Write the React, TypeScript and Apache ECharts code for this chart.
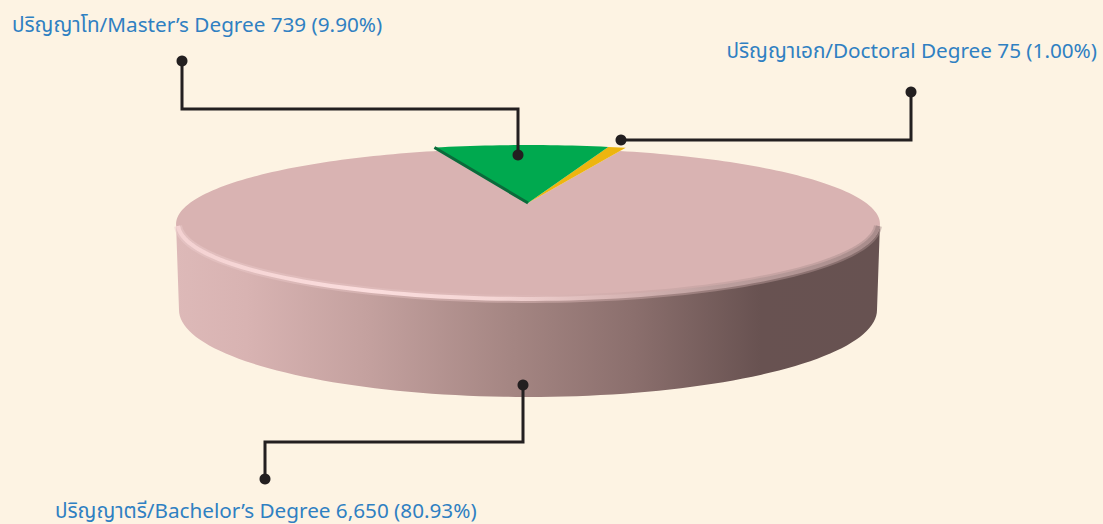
import React, { useEffect, useRef } from "react";
import * as echarts from "echarts";

// Data, in clockwise order from the start of the green slice
const names = ["ปริญญาโท/Master’s Degree", "ปริญญาเอก/Doctoral Degree", "ปริญญาตรี/Bachelor’s Degree"];
const values = [739, 75, 6650];
const percents = ["9.90", "1.00", "80.93"];
const sliceColors = ["#00A94F", "#EDB50F", "#D9B3B2"];
const sliceEdges = ["#0A6B3B", "#C99A0A", "#D9B3B2"];
const sliceRadius = [1.08, 1.08, 1];

// Layout
const W = 1103;
const H = 524;
const BG = "#FDF3E3";
const CX = 528;
const APEX_Y = 203;
const K = 0.2778;
const A = 338.1;
const B = 69.77;
const START_DEG = -19.2;
const BOTTOM = { cx: 528, cy: 310, rx: 349, ry: 87 };
const TEXT_COLOR = "#2F80C2";
const FONT = '"Noto Sans", "Noto Sans Thai", "DejaVu Sans", sans-serif';

const labelPos = [
  { x: 12, y: 24, align: "left" },
  { x: 1097, y: 50, align: "right" },
  { x: 55, y: 510, align: "left" },
];
const leaders = [
  [[182, 61], [182, 109], [518, 109], [518, 155]],
  [[911, 92], [911, 140], [621, 140]],
  [[523, 385], [523, 442], [265, 442], [265, 479]],
];

// Perspective projection of the unit disc (angle measured clockwise from the back)
function project(deg: number, r: number): number[] {
  const t = (deg * Math.PI) / 180;
  const u = r * Math.sin(t);
  const v = r * Math.cos(t);
  const d = 1 + K * v;
  return [CX + (A * u) / d, APEX_Y - (B * v) / d];
}
function arc(from: number, to: number, r: number): number[][] {
  const n = Math.max(2, Math.ceil(Math.abs(to - from) / 1.5));
  const pts: number[][] = [];
  for (let i = 0; i <= n; i++) pts.push(project(from + ((to - from) * i) / n, r));
  return pts;
}

const total = values.reduce((a, b) => a + b, 0);
const FRONT_FROM = 106.1;
const FRONT_TO = 253.9;

const grad = (stops: [number, string][]) =>
  new echarts.graphic.LinearGradient(0, 0, 1, 0, stops.map(([offset, color]) => ({ offset, color })));

function wallElement() {
  const top = arc(FRONT_FROM, FRONT_TO, 1); // right extreme -> left extreme, via the front
  const bottom: number[][] = [];
  for (let a = 180; a >= 0; a -= 2) {
    const t = (a * Math.PI) / 180;
    bottom.push([BOTTOM.cx + BOTTOM.rx * Math.cos(t), BOTTOM.cy + BOTTOM.ry * Math.sin(t)]);
  }
  return {
    type: "polygon",
    shape: { points: top.concat(bottom) },
    style: {
      fill: grad([
        [0, "#DDB9B8"],
        [0.1, "#D8B3B2"],
        [0.27, "#C4A19F"],
        [0.48, "#A48582"],
        [0.65, "#8B6F6D"],
        [0.83, "#685251"],
        [1, "#675251"],
      ]),
    },
  };
}

function rimElements() {
  const rim = arc(FRONT_FROM + 1.5, FRONT_TO - 1.5, 0.995);
  return [
    {
      type: "polyline",
      shape: { points: rim },
      style: {
        fill: "none",
        lineWidth: 8,
        opacity: 0.5,
        stroke: grad([
          [0, "#EBCBCB"],
          [0.5, "#DDB9B8"],
          [0.68, "#C4A2A1"],
          [1, "#A88C8B"],
        ]),
      },
    },
    {
      type: "polyline",
      shape: { points: rim },
      style: {
        fill: "none",
        lineWidth: 4,
        stroke: grad([
          [0, "#F4D2D2"],
          [0.27, "#FBDDDD"],
          [0.45, "#F5D6D5"],
          [0.62, "#D9B7B6"],
          [0.78, "#BB9E9D"],
          [1, "#A88C8B"],
        ]),
      },
    },
  ];
}

function renderSlice(params: any, api: any) {
  const row = api.value(0); // position in the clockwise order
  let from = START_DEG;
  for (let j = 0; j < row; j++) from += (values[j] / total) * 360;
  const sweep = (api.value(1) / total) * 360;
  const r = sliceRadius[row];
  const apex = project(0, 0);
  const points = [apex, ...arc(from, from + sweep, r)];
  const isMain = sweep > 180;
  const children: any[] = [];
  if (isMain) children.push(wallElement());
  children.push({
    type: "polygon",
    shape: { points },
    style: { fill: sliceColors[row] },
  });
  if (isMain) children.push(...rimElements());
  if (row === 0) {
    children.push({
      type: "polyline",
      shape: { points: [points[1], apex] },
      style: { fill: "none", stroke: sliceEdges[row], lineWidth: 3 },
    });
  }
  return { type: "group", children };
}

function renderLeader(params: any) {
  const pts = leaders[params.dataIndex];
  const last = pts[pts.length - 1];
  return {
    type: "group",
    children: [
      {
        type: "polyline",
        shape: { points: pts },
        style: { fill: "none", stroke: "#231F20", lineWidth: 3 },
      },
      { type: "circle", shape: { cx: pts[0][0], cy: pts[0][1], r: 5.5 }, style: { fill: "#231F20" } },
      { type: "circle", shape: { cx: last[0], cy: last[1], r: 5.5 }, style: { fill: "#231F20" } },
    ],
  };
}

export default function App() {
  const ref = useRef<HTMLDivElement>(null);
  useEffect(() => {
    document.body.style.margin = "0";
    document.body.style.background = BG;
    const chart = echarts.init(ref.current!, undefined, { renderer: "svg" });
    chart.setOption({
      animation: false,
      backgroundColor: BG,
      tooltip: { show: false },
      graphic: {
        elements: names.map((n, i) => ({
          type: "text",
          x: labelPos[i].x,
          y: labelPos[i].y,
          style: {
            text: `${n} ${values[i].toLocaleString("en-US")} (${percents[i]}%)`,
            fill: TEXT_COLOR,
            font: `400 20.7px ${FONT}`,
            align: labelPos[i].align,
            verticalAlign: "middle",
          },
        })),
      },
      series: [
        {
          type: "custom",
          coordinateSystem: "none",
          silent: true,
          z: 2,
          renderItem: renderSlice,
          // drawn largest first, so that the small slices lie on top
          data: values.map((v, i) => [i, v]).reverse(),
        },
        {
          type: "custom",
          coordinateSystem: "none",
          silent: true,
          z: 5,
          renderItem: renderLeader,
          data: leaders.map((_, i) => [i]),
        },
      ],
    });
    return () => chart.dispose();
  }, []);
  return <div ref={ref} style={{ width: W, height: H }} />;
}
